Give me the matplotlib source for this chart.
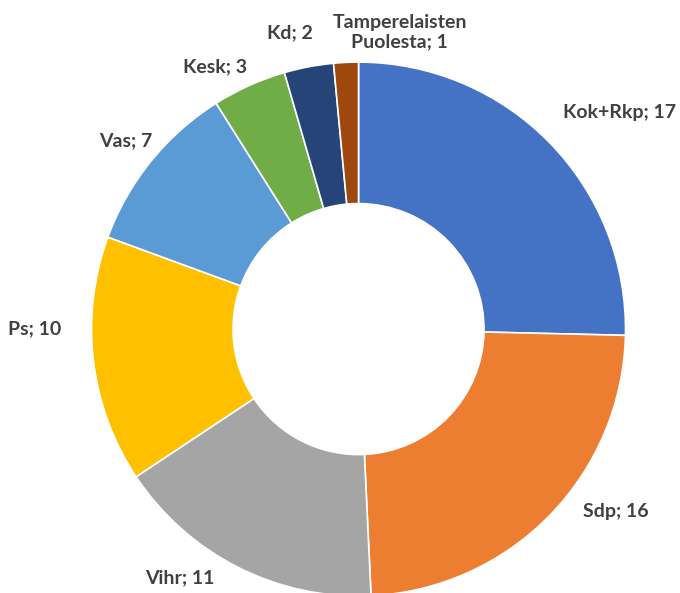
import matplotlib
matplotlib.use('Agg')
import matplotlib.pyplot as plt

# Data
parties = ['Kok+Rkp', 'Sdp', 'Vihr', 'Ps', 'Vas', 'Kesk', 'Kd', 'Tamperelaisten\nPuolesta']
seats = [17, 16, 11, 10, 7, 3, 2, 1]
colors = ['#4472C4', '#ED7D31', '#A5A5A5', '#FFC000', '#5B9BD5', '#70AD47', '#264478', '#9E480E']

# label centres (data coords, radius = 1)
label_xy = [(0.978, 0.813), (0.962, -0.685), (-0.670, -0.933), (-1.213, 0.0),
            (-0.873, 0.704), (-0.536, 0.981), (-0.258, 1.109), (0.154, 1.112)]

fig = plt.figure(figsize=(6.8, 5.93), dpi=100)
ax = fig.add_axes([0.1346, -0.0052, 0.7853, 0.9005])

wedges, _ = ax.pie(seats, colors=colors, startangle=90, counterclock=False,
                   radius=1, wedgeprops=dict(width=0.53, edgecolor='white', linewidth=1.2))

for name, val, (x, y) in zip(parties, seats, label_xy):
    ax.text(x, y, f'{name}; {val}', ha='center', va='center', fontsize=14,
            fontweight='bold', color='#404040', family=['Lato', 'DejaVu Sans'],
            linespacing=1.2)

ax.set_xlim(-1, 1)
ax.set_ylim(-1, 1)
ax.set_aspect('equal')
ax.axis('off')

fig.savefig('out.png', dpi=100)
